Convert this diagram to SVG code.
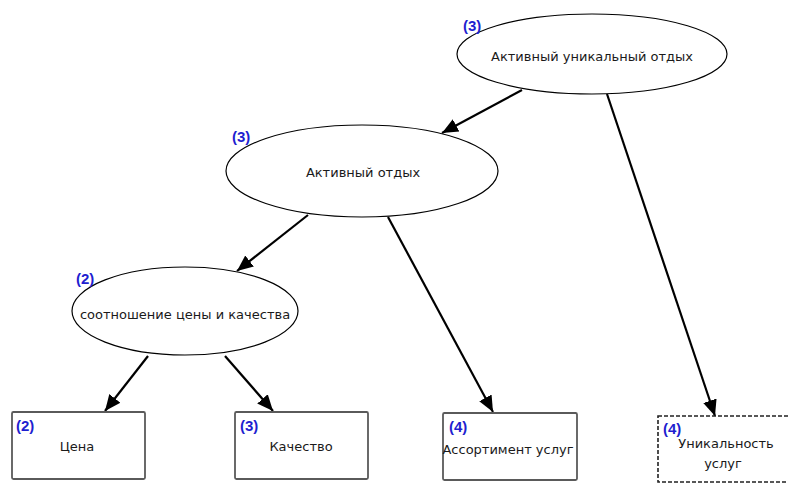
<svg xmlns="http://www.w3.org/2000/svg" width="788" height="485" viewBox="0 0 788 485">
  <style>
    .ell { fill: #ffffff; stroke: #000000; stroke-width: 1.2; }
    .box { fill: #ffffff; stroke: #5a5a5a; stroke-width: 1.8; }
    .dash { fill: #ffffff; stroke: #222222; stroke-width: 1.6; stroke-dasharray: 4 2; }
    .txt { font-family: "DejaVu Sans", "Liberation Sans", sans-serif; font-size: 13px; fill: #1a1a1a; text-anchor: middle; }
    .num { font-family: "Liberation Sans", "DejaVu Sans", sans-serif; font-size: 15px; font-weight: bold; fill: #1f1fd0; }
    .edge { stroke: #000000; stroke-width: 2.2; fill: none; marker-end: url(#arrow); }
  </style>
  <defs>
    <marker id="arrow" markerUnits="userSpaceOnUse" markerWidth="18" markerHeight="18" viewBox="0 0 18 18" refX="16" refY="9" orient="auto">
      <path d="M0,2 L16,9 L0,16 Z" fill="#000000"/>
    </marker>
  </defs>

  <rect width="788" height="485" fill="#ffffff"/>

  <!-- connectors -->
  <g id="edges">
    <line class="edge" x1="522" y1="90" x2="442" y2="133"/>
    <line class="edge" x1="607" y1="94" x2="715" y2="416"/>
    <line class="edge" x1="308" y1="215" x2="237" y2="271"/>
    <line class="edge" x1="388" y1="217" x2="493" y2="412"/>
    <line class="edge" x1="148" y1="356" x2="105" y2="411"/>
    <line class="edge" x1="225" y1="356" x2="273" y2="411"/>
  </g>

  <g id="n-active-unique">
    <ellipse class="ell" cx="592" cy="54" rx="135" ry="40"/>
    <text class="txt" x="592" y="61">Активный уникальный отдых</text>
    <text class="num" x="463" y="31">(3)</text>
  </g>

  <g id="n-active">
    <ellipse class="ell" cx="362" cy="171" rx="136" ry="46"/>
    <text class="txt" x="363" y="177">Активный отдых</text>
    <text class="num" x="232" y="142">(3)</text>
  </g>

  <g id="n-price-quality">
    <ellipse class="ell" cx="185" cy="311" rx="113" ry="44"/>
    <text class="txt" x="185" y="319">соотношение цены и качества</text>
    <text class="num" x="76" y="284">(2)</text>
  </g>

  <g id="n-price">
    <rect class="box" x="12" y="412" width="133" height="67" rx="1.5"/>
    <text class="num" x="16" y="431">(2)</text>
    <text class="txt" x="77" y="451">Цена</text>
  </g>

  <g id="n-quality">
    <rect class="box" x="235" y="412" width="133" height="67" rx="1.5"/>
    <text class="num" x="240" y="431">(3)</text>
    <text class="txt" x="301" y="451">Качество</text>
  </g>

  <g id="n-range">
    <rect class="box" x="443" y="413" width="134" height="67" rx="1.5"/>
    <text class="num" x="449" y="432">(4)</text>
    <text class="txt" x="508" y="454">Ассортимент услуг</text>
  </g>

  <g id="n-uniqueness">
    <rect class="dash" x="658" y="416" width="133" height="66"/>
    <text class="num" x="663" y="434">(4)</text>
    <text class="txt" x="726" y="448">Уникальность</text>
    <text class="txt" x="723" y="468">услуг</text>
  </g>
</svg>
